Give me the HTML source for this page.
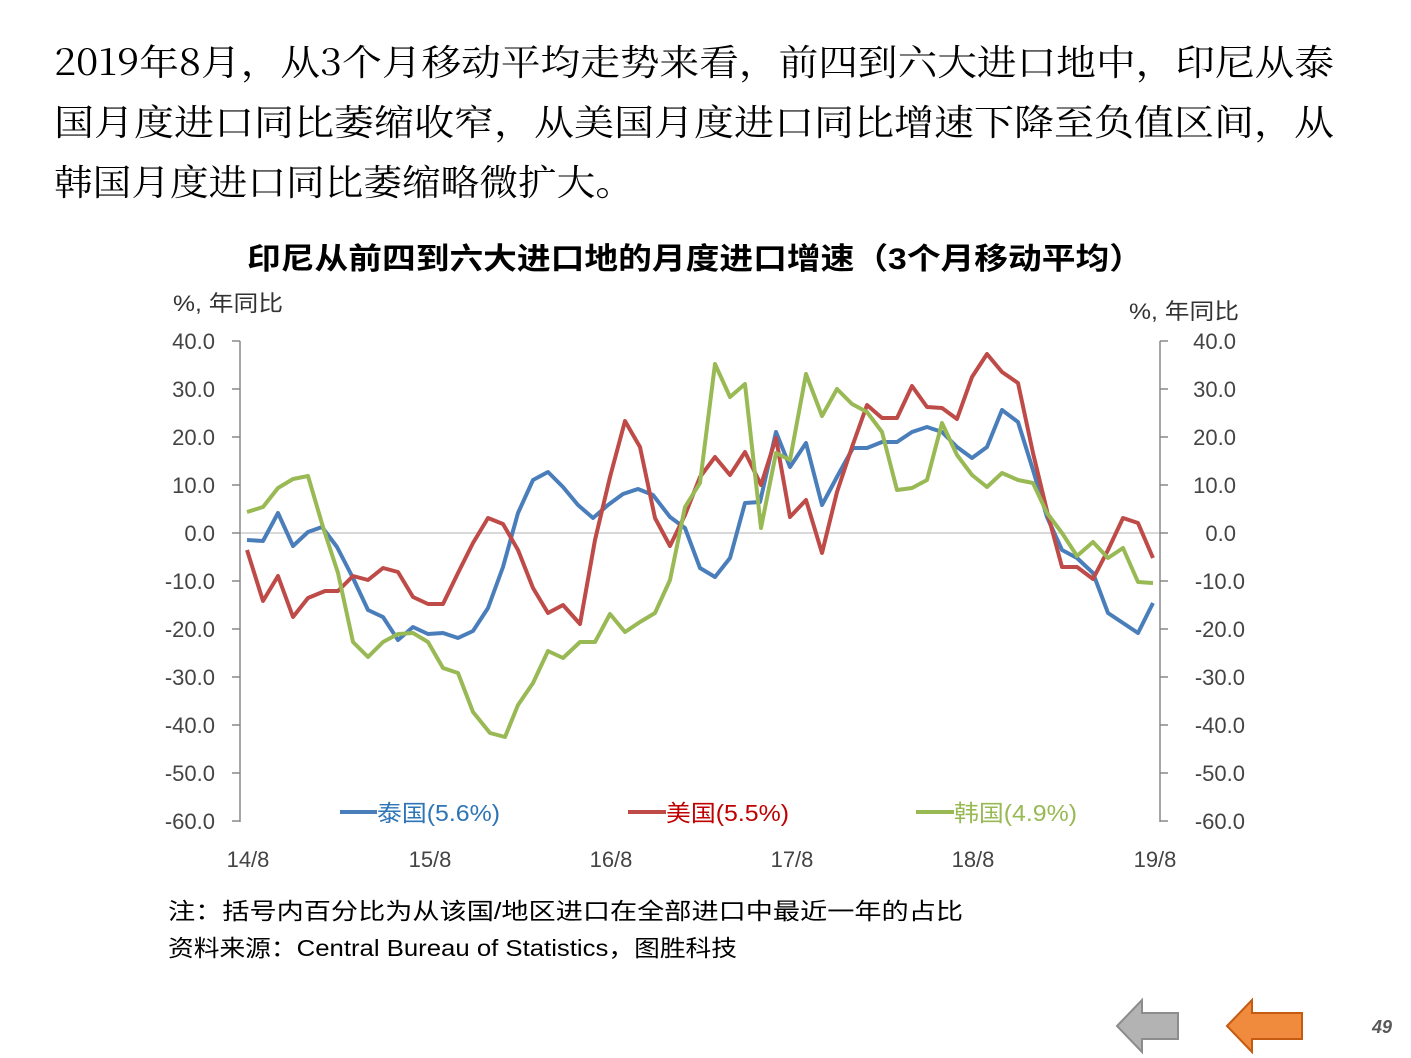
<!DOCTYPE html>
<html><head><meta charset="utf-8"><style>
body{margin:0;background:#fff;}
svg{display:block;}
</style></head><body>
<svg width="1411" height="1058" viewBox="0 0 1411 1058" xmlns="http://www.w3.org/2000/svg">
<g font-family="'Noto Serif CJK SC','Liberation Serif',serif" font-size="36" fill="#000">
<text x="54" y="75" textLength="1280" lengthAdjust="spacingAndGlyphs">2019年8月，从3个月移动平均走势来看，前四到六大进口地中，印尼从泰</text>
<text x="54" y="135" textLength="1280" lengthAdjust="spacingAndGlyphs">国月度进口同比萎缩收窄，从美国月度进口同比增速下降至负值区间，从</text>
<text x="54" y="195" textLength="580" lengthAdjust="spacingAndGlyphs">韩国月度进口同比萎缩略微扩大。</text>
</g>
<text x="247" y="269" textLength="896" lengthAdjust="spacingAndGlyphs" font-family="'Liberation Sans','Noto Sans CJK SC',sans-serif" font-weight="bold" font-size="30">印尼从前四到六大进口地的月度进口增速（3个月移动平均）</text>
<g font-family="'Liberation Sans','Noto Sans CJK SC',sans-serif" font-size="22" fill="#333">
<text x="173" y="311" textLength="110" lengthAdjust="spacingAndGlyphs">%, 年同比</text>
<text x="1129" y="319" textLength="110" lengthAdjust="spacingAndGlyphs">%, 年同比</text>
</g>
<line x1="240" y1="533" x2="1160" y2="533" stroke="#d9d9d9" stroke-width="2"/>
<g stroke="#888" stroke-width="1.5">
<line x1="240" y1="341" x2="240" y2="822"/>
<line x1="1160" y1="341" x2="1160" y2="822"/>
<line x1="232" y1="341" x2="240" y2="341"/><line x1="232" y1="389" x2="240" y2="389"/><line x1="232" y1="437" x2="240" y2="437"/><line x1="232" y1="485" x2="240" y2="485"/><line x1="232" y1="533" x2="240" y2="533"/><line x1="232" y1="581" x2="240" y2="581"/><line x1="232" y1="629" x2="240" y2="629"/><line x1="232" y1="677" x2="240" y2="677"/><line x1="232" y1="725" x2="240" y2="725"/><line x1="232" y1="773" x2="240" y2="773"/><line x1="232" y1="821" x2="240" y2="821"/>
<line x1="1160" y1="341" x2="1168" y2="341"/><line x1="1160" y1="389" x2="1168" y2="389"/><line x1="1160" y1="437" x2="1168" y2="437"/><line x1="1160" y1="485" x2="1168" y2="485"/><line x1="1160" y1="533" x2="1168" y2="533"/><line x1="1160" y1="581" x2="1168" y2="581"/><line x1="1160" y1="629" x2="1168" y2="629"/><line x1="1160" y1="677" x2="1168" y2="677"/><line x1="1160" y1="725" x2="1168" y2="725"/><line x1="1160" y1="773" x2="1168" y2="773"/><line x1="1160" y1="821" x2="1168" y2="821"/>
</g>
<g font-family="'Liberation Sans',sans-serif" font-size="22" fill="#444">
<g text-anchor="end">
<text x="215" y="349">40.0</text><text x="215" y="397">30.0</text><text x="215" y="445">20.0</text><text x="215" y="493">10.0</text><text x="215" y="541">0.0</text><text x="215" y="589">-10.0</text><text x="215" y="637">-20.0</text><text x="215" y="685">-30.0</text><text x="215" y="733">-40.0</text><text x="215" y="781">-50.0</text><text x="215" y="829">-60.0</text>
</g>
<g text-anchor="end">
<text x="1236" y="349">40.0</text><text x="1236" y="397">30.0</text><text x="1236" y="445">20.0</text><text x="1236" y="493">10.0</text><text x="1236" y="541">0.0</text><text x="1245" y="589">-10.0</text><text x="1245" y="637">-20.0</text><text x="1245" y="685">-30.0</text><text x="1245" y="733">-40.0</text><text x="1245" y="781">-50.0</text><text x="1245" y="829">-60.0</text>
</g>
<g text-anchor="middle">
<text x="248" y="867">14/8</text><text x="430" y="867">15/8</text><text x="611" y="867">16/8</text><text x="792" y="867">17/8</text><text x="973" y="867">18/8</text><text x="1155" y="867">19/8</text>
</g>
</g>
<g fill="none" stroke-width="4" stroke-linejoin="round">
<polyline stroke="#4a7ebb" points="247,540 263,541 278,513 293,546 308,532 322,527 337,547 353,578 368,610 383,617 398,640 413,627 428,634 443,633 458,638 473,631 488,608 503,567 518,513 533,480 548,472 563,487 578,505 593,518 608,505 623,494 638,489 653,495 670,517 685,528 700,568 715,577 730,558 745,503 760,502 776,432 790,467 806,443 822,505 838,475 853,448 867,448 882,442 897,442 912,432 927,427 942,432 957,447 972,458 987,447 1002,410 1018,422 1033,470 1047,517 1062,550 1077,558 1093,573 1108,613 1123,623 1138,633 1153,603"/>
<polyline stroke="#be4b48" points="247,550 263,601 278,576 293,617 308,598 325,591 338,591 353,576 368,580 383,568 398,572 413,597 428,604 443,604 458,573 473,543 488,518 503,524 518,550 533,588 548,613 563,605 580,624 595,540 610,477 625,421 640,447 655,518 670,546 685,515 700,477 715,457 730,475 745,452 761,485 776,438 790,517 806,500 822,553 837,492 852,447 867,405 882,418 897,418 912,386 927,407 942,408 957,419 972,377 987,354 1002,372 1018,383 1033,453 1048,515 1062,567 1077,567 1093,579 1108,550 1123,518 1138,523 1153,558"/>
<polyline stroke="#98b954" points="247,512 263,507 278,488 293,479 308,476 323,527 338,573 353,642 368,657 383,642 398,634 413,633 428,642 443,668 458,673 473,712 490,733 505,737 518,705 533,683 548,651 563,658 580,642 595,642 610,614 625,632 640,622 655,613 670,580 685,507 700,483 715,364 730,397 745,384 761,528 776,453 790,460 806,374 822,416 837,389 852,404 867,412 882,432 897,490 912,488 927,480 942,423 957,455 972,475 987,487 1002,473 1018,480 1033,483 1047,513 1062,533 1077,556 1093,542 1108,558 1123,548 1138,582 1153,583"/>
</g>
<g font-family="'Liberation Sans','Noto Sans CJK SC',sans-serif" font-size="23">
<line x1="340" y1="812" x2="377" y2="812" stroke="#4a7ebb" stroke-width="4"/>
<text x="377" y="821" fill="#2e75b6" textLength="123" lengthAdjust="spacingAndGlyphs">泰国(5.6%)</text>
<line x1="628" y1="812" x2="666" y2="812" stroke="#be4b48" stroke-width="4"/>
<text x="666" y="821" fill="#c00000" textLength="123" lengthAdjust="spacingAndGlyphs">美国(5.5%)</text>
<line x1="916" y1="812" x2="954" y2="812" stroke="#98b954" stroke-width="4"/>
<text x="954" y="821" fill="#98b954" textLength="123" lengthAdjust="spacingAndGlyphs">韩国(4.9%)</text>
</g>
<g font-family="'Liberation Sans','Noto Sans CJK SC',sans-serif" font-size="23" fill="#000">
<text x="168" y="919" textLength="795" lengthAdjust="spacingAndGlyphs">注：括号内百分比为从该国/地区进口在全部进口中最近一年的占比</text>
<text x="168" y="956" textLength="569" lengthAdjust="spacingAndGlyphs">资料来源：Central Bureau of Statistics，图胜科技</text>
</g>
<polygon points="1117,1026 1142,1000 1142,1013 1178,1013 1178,1039 1142,1039 1142,1052" fill="#b3b3b3" stroke="#8c8c8c" stroke-width="2"/>
<polygon points="1227,1026 1252,1000 1252,1013 1302,1013 1302,1039 1252,1039 1252,1052" fill="#f08a3c" stroke="#c55a11" stroke-width="2"/>
<text x="1392" y="1033" text-anchor="end" font-family="'Liberation Sans',sans-serif" font-size="18" font-weight="bold" font-style="italic" fill="#595959">49</text>
</svg>
</body></html>
